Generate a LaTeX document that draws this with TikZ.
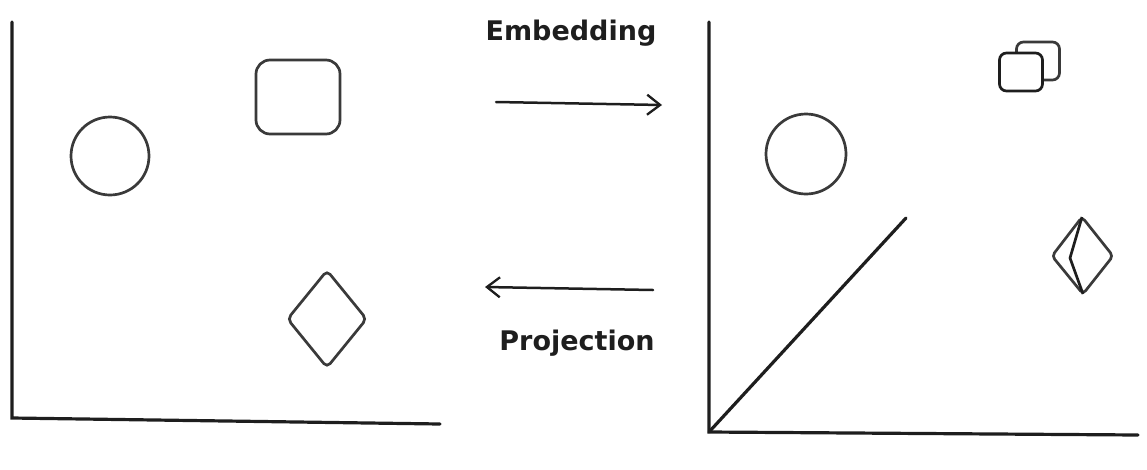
\documentclass[tikz,border=0pt]{standalone}
\usepackage{fontspec}
\setmainfont{DejaVu Sans}
\usepackage{tikz}
\usetikzlibrary{arrows.meta, shapes.geometric}
\definecolor{ink}{HTML}{1E1E1E}
\definecolor{softink}{HTML}{3A3A3A}

\begin{document}
\begin{tikzpicture}[
    x=1pt, y=-1pt,
    axis/.style={draw=ink, line width=3.2pt, line cap=round},
    outline/.style={draw=softink, line width=2.7pt, inner sep=0pt},
    roundbox/.style={outline, rectangle, rounded corners=14pt},
    smallbox/.style={draw=ink, line width=2.7pt, rectangle, rounded corners=7pt, inner sep=0pt, minimum width=43pt, minimum height=38pt, fill=white},
    gem/.style={outline, diamond, rounded corners=5pt, minimum width=80pt, minimum height=98pt},
    arrow/.style={draw=ink, line width=2.5pt, line cap=round, -{Straight Barb[length=13pt, width=20pt, line width=2.3pt]}},
    label/.style={font=\fontsize{27}{30}\selectfont\bfseries, text=ink}
]
\useasboundingbox (0,0) rectangle (1147,469);

% Left space
\coordinate (lorigin) at (12,418);
\draw[axis] (12,22) -- (lorigin) -- (440,424);
\node[outline, circle, minimum size=78pt] (lcircle) at (110,156) {};
\node[roundbox, minimum width=84pt, minimum height=74pt] (lbox) at (298,97) {};
\node[gem] (lgem) at (327,319) {};

% Right space
\coordinate (rorigin) at (709,432);
\draw[axis] (709,22) -- (rorigin) -- (1138,435);
\draw[axis] (rorigin) -- (906,218);
\node[outline, circle, minimum size=80pt] (rcircle) at (806,154) {};
\node[smallbox, draw=softink] (rboxback) at (1038,61) {};
\node[smallbox] (rboxfront) at (1021,72) {};
\draw[outline, rounded corners=4pt] (1082,217) -- (1113,256) -- (1083,294) -- (1052,256) -- cycle;
\draw[draw=ink, line width=2.7pt, line join=round] (1082,217) -- (1070,258) -- (1083,294);

% Arrows
\coordinate (embfrom) at (496,102);
\coordinate (embto) at (662,105);
\coordinate (projfrom) at (653,290);
\coordinate (projto) at (485,287);
\draw[arrow] (embfrom) -- (embto);
\draw[arrow] (projfrom) -- (projto);
\node[label] (emb) at (571,33) {Embedding};
\node[label] (proj) at (577,343) {Projection};

\end{tikzpicture}
\end{document}
